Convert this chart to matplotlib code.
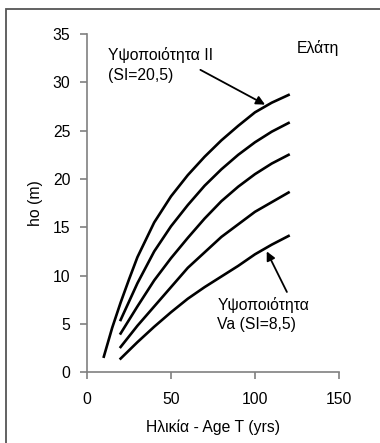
import matplotlib
matplotlib.use("Agg")
import matplotlib.pyplot as plt
from matplotlib.patches import Rectangle

plt.rcParams['font.family'] = ['Liberation Sans', 'DejaVu Sans']
plt.rcParams['font.size'] = 11.3

# Site index curves for fir (age in years, dominant height in m)
ages_top = [10, 15, 20, 25, 30, 40, 50, 60, 70, 80, 90, 100, 110, 120]
h_top = [1.6, 4.6, 7.2, 9.6, 11.9, 15.5, 18.2, 20.4, 22.3, 24.0, 25.5, 26.9, 27.9, 28.7]

ages = [20, 30, 40, 50, 60, 70, 80, 90, 100, 110, 120]
h_2 = [5.4, 9.2, 12.5, 15.1, 17.3, 19.3, 21.0, 22.5, 23.8, 24.9, 25.8]
h_3 = [4.0, 6.8, 9.5, 11.8, 13.9, 15.9, 17.7, 19.2, 20.5, 21.6, 22.5]
h_4 = [2.6, 4.8, 6.8, 8.8, 10.8, 12.4, 14.0, 15.3, 16.6, 17.6, 18.6]
h_5 = [1.4, 3.1, 4.7, 6.2, 7.6, 8.8, 9.9, 11.0, 12.2, 13.2, 14.1]

fig = plt.figure(figsize=(3.8, 4.43), dpi=100)
ax = fig.add_axes([0.229, 0.160, 0.663, 0.763])

ax.plot(ages_top, h_top, color='black', lw=1.9)
for h in (h_2, h_3, h_4, h_5):
    ax.plot(ages, h, color='black', lw=1.9)

ax.set_xlim(0, 150)
ax.set_ylim(0, 35)
ax.set_xticks([0, 50, 100, 150])
ax.set_yticks(range(0, 36, 5))
ax.set_xlabel('Ηλικία - Age T (yrs)', labelpad=9)
ax.set_ylabel('ho (m)', labelpad=7)

for side in ('top', 'right'):
    ax.spines[side].set_visible(False)
for side in ('left', 'bottom'):
    ax.spines[side].set_color('#808080')
    ax.spines[side].set_linewidth(1.2)
ax.tick_params(direction='out', length=5, width=1.2, color='#808080')
ax.tick_params(axis='x', pad=9)
ax.tick_params(axis='y', pad=7)

ax.text(12.5, 31.8, 'Υψοποιότητα ΙΙ\n(SI=20,5)', va='center', ha='left', linespacing=1.45)
ax.annotate('', xy=(106, 27.7), xytext=(67.5, 31.3),
            arrowprops=dict(arrowstyle='-|>', color='black', lw=1.3, mutation_scale=13,
                            shrinkA=0, shrinkB=0))

ax.text(77.5, 6.0, 'Υψοποιότητα\nVa (SI=8,5)', va='center', ha='left', linespacing=1.35)
ax.annotate('', xy=(107, 12.5), xytext=(119, 8.3),
            arrowprops=dict(arrowstyle='-|>', color='black', lw=1.3, mutation_scale=13,
                            shrinkA=0, shrinkB=0))

ax.text(125, 33.6, 'Ελάτη', va='center', ha='left')

# frame around the figure
fig.patches.append(Rectangle((6 / 380, -0.1), 1.2, 0.1 + (443 - 9) / 443,
                             transform=fig.transFigure, fill=False,
                             edgecolor='#555555', lw=1.3))

fig.savefig('out.png', dpi=100)
